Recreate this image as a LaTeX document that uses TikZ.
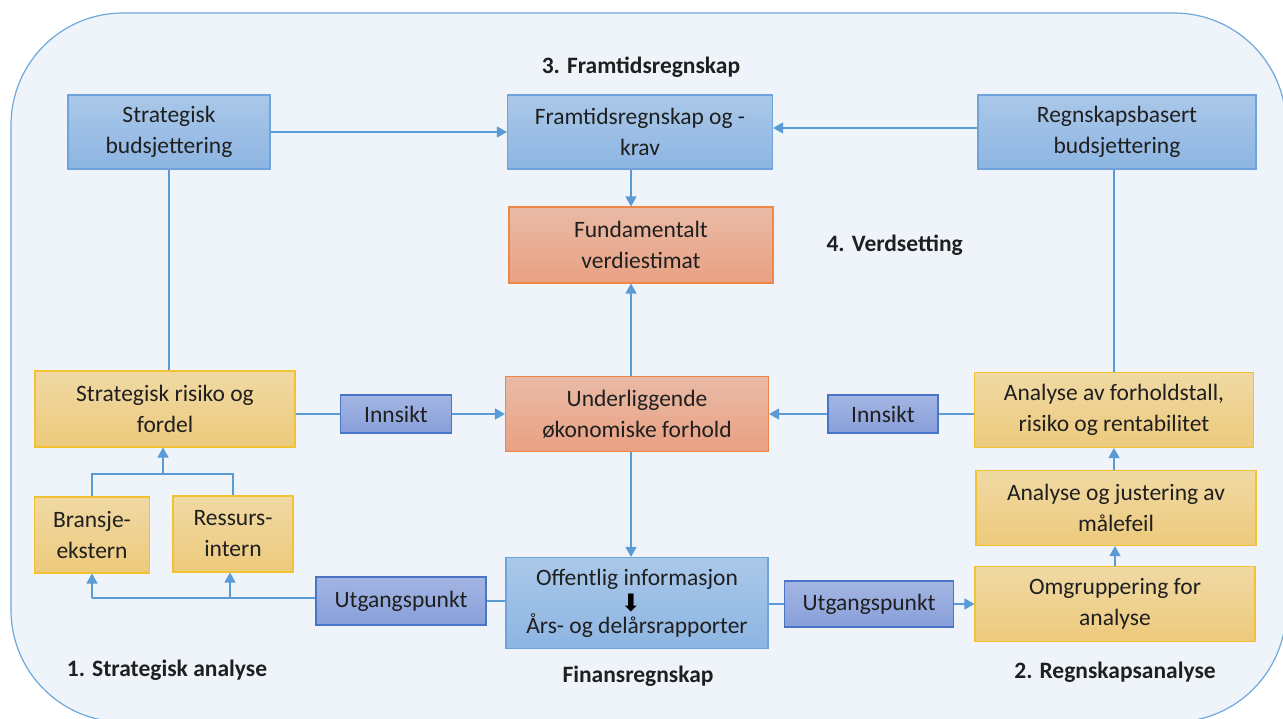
\documentclass[tikz,border=0pt]{standalone}
\usepackage{fontspec}
\setmainfont{Carlito}
\newfontfamily\symfont{DejaVu Sans}
\usetikzlibrary{arrows.meta,calc}

\definecolor{framebg}{HTML}{EFF4FB}
\definecolor{frameline}{HTML}{6FA8DC}
\definecolor{linkcol}{HTML}{5B9BD5}
\definecolor{blueTop}{HTML}{AAC8E9}
\definecolor{blueBot}{HTML}{8DB5E2}
\definecolor{blueLine}{HTML}{6FA3DA}
\definecolor{navyTop}{HTML}{A3B5E2}
\definecolor{navyBot}{HTML}{889FDA}
\definecolor{navyLine}{HTML}{4A74C6}
\definecolor{redTop}{HTML}{E9BAA6}
\definecolor{redBot}{HTML}{E9A183}
\definecolor{redLine}{HTML}{EE8648}
\definecolor{goldTop}{HTML}{F0D9A4}
\definecolor{goldBot}{HTML}{EDCA7C}
\definecolor{goldLine}{HTML}{F2C233}
\definecolor{ink}{HTML}{1F1F1F}

\tikzset{
  box/.style={inner sep=0pt, align=center, text=ink, line width=1.1pt,
    font=\fontsize{23.5}{31}\selectfont},
  bluebox/.style={box, draw=blueLine, top color=blueTop, bottom color=blueBot},
  navybox/.style={box, draw=navyLine, top color=navyTop, bottom color=navyBot},
  redbox/.style={box, draw=redLine, top color=redTop, bottom color=redBot},
  goldbox/.style={box, draw=goldLine, top color=goldTop, bottom color=goldBot},
  title/.style={text=ink, font=\fontsize{23.5}{28}\selectfont\bfseries},
  link/.style={draw=linkcol, line width=1.3pt},
  arr/.style={link, -{Triangle[length=10pt,width=11pt]}},
}

\begin{document}
\begin{tikzpicture}[x=1pt,y=-1pt]
\useasboundingbox (0,0) rectangle (1283,719);

% outer frame
\draw[frameline, fill=framebg, line width=1.2pt, rounded corners=112pt]
  (11,13) rectangle (1286,722);

% section titles
\node[title] (t3) at (641,67) {3. Framtidsregnskap};
\node[title, anchor=west] (t4) at (823,245) {4. Verdsetting};
\node[title] (t1) at (167,670) {1. Strategisk analyse};
\node[title] (tf) at (638,676) {Finansregnskap};
\node[title] (t2) at (1115,672) {2. Regnskapsanalyse};

% top row
\node[bluebox, minimum width=202pt, minimum height=74pt] (sb) at (169,132)
  {Strategisk\\budsjettering};
\node[bluebox, minimum width=265pt, minimum height=74pt] (fk) at (640,132)
  {Framtidsregnskap og -\\krav};
\node[bluebox, minimum width=278pt, minimum height=74pt] (rb) at (1117,132)
  {Regnskapsbasert\\budsjettering};

% valuation
\node[redbox, minimum width=264pt, minimum height=76pt] (fv) at (641,245)
  {Fundamentalt\\verdiestimat};

% middle row
\node[goldbox, minimum width=260pt, minimum height=76pt] (sr) at (165,409)
  {Strategisk risiko og\\fordel};
\node[navybox, minimum width=111pt, minimum height=38pt] (in1) at (396,414)
  {Innsikt};
\node[redbox, minimum width=263pt, minimum height=75pt] (uf) at (637,414)
  {Underliggende\\økonomiske forhold};
\node[navybox, minimum width=110pt, minimum height=38pt] (in2) at (883,414)
  {Innsikt};
\node[goldbox, minimum width=279pt, minimum height=75pt] (af) at (1114,410)
  {Analyse av forholdstall,\\risiko og rentabilitet};

% lower left
\node[goldbox, minimum width=115pt, minimum height=76pt] (be) at (92,535)
  {Bransje-\\ekstern};
\node[goldbox, minimum width=120pt, minimum height=76pt] (ri) at (233,534)
  {Ressurs-\\intern};

% lower right
\node[goldbox, minimum width=280pt, minimum height=75pt] (aj) at (1116,508)
  {Analyse og justering av\\målefeil};
\node[goldbox, minimum width=280pt, minimum height=75pt] (og) at (1115,604)
  {Omgruppering for\\analyse};

% bottom row
\node[navybox, minimum width=170pt, minimum height=48pt] (ug1) at (401,601)
  {Utgangspunkt};
\node[bluebox, minimum width=262pt, minimum height=91pt,
  font=\fontsize{23.5}{24}\selectfont] (of) at (637,603)
  {Offentlig informasjon\\[24pt]Års- og delårsrapporter};
\node[inner sep=0pt, text=black, font=\symfont\fontsize{24}{24}\selectfont]
  (ofarrow) at (631,603) {⬇};
\node[navybox, minimum width=169pt, minimum height=46pt] (ug2) at (869,604)
  {Utgangspunkt};

% central column of links
\coordinate (col) at (631,0);
\draw[arr] (sb.east) -- (sb.east -| fk.west);
\draw[arr] ([yshift=4pt]rb.west) -- ([yshift=4pt]rb.west -| fk.east);
\draw[arr] (col |- fk.south) -- (col |- fv.north);
\draw[arr] (col |- uf.north) -- (col |- fv.south);
\draw[arr] (col |- uf.south) -- (col |- of.north);

% links to the budgeting boxes
\draw[link] (sb.south) -- (sb.south |- sr.north);
\draw[link] (af.north) -- (af.north |- rb.south);

% insight links
\draw[link] (sr.east |- in1.west) -- (in1.west);
\draw[arr] (in1.east) -- (in1.east -| uf.west);
\draw[link] (af.west |- in2.east) -- (in2.east);
\draw[arr] (in2.west) -- (in2.west -| uf.east);

% strategic analysis inputs
\coordinate (jn) at (163,474);
\draw[link] (be.north) -- (be.north |- jn) -- (ri.north |- jn) -- (ri.north);
\draw[arr] (jn) -- (jn |- sr.south);

% starting point, left
\coordinate (bl) at (92,598);
\coordinate (rl) at (230,598);
\draw[link] (of.west |- ug1.east) -- (ug1.east);
\draw[link] ([yshift=3pt]ug1.west) -- (bl);
\draw[arr] (bl) -- (bl |- be.south);
\draw[arr] (rl) -- (rl |- ri.south);

% starting point, right
\draw[link] (of.east |- ug2.west) -- (ug2.west);
\draw[arr] (ug2.east) -- (ug2.east -| og.west);

% accounting analysis chain
\draw[arr] (og.north) -- (og.north |- aj.south);
\draw[arr] (af.south |- aj.north) -- (af.south);
\end{tikzpicture}
\end{document}
